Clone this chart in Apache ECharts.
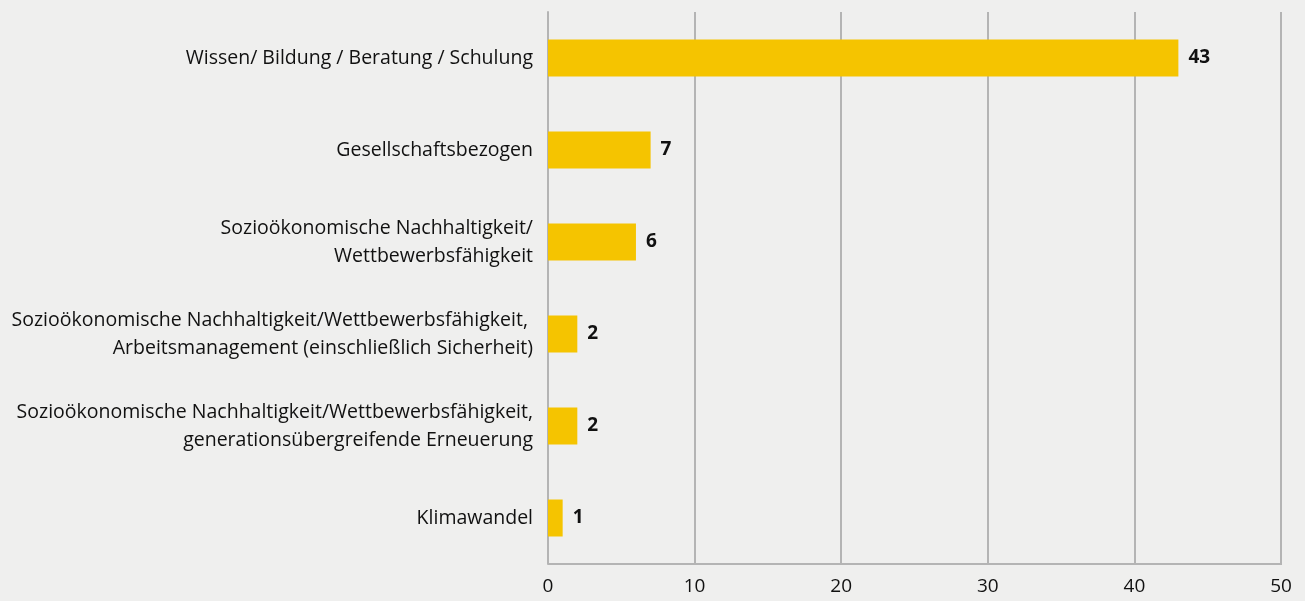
<!DOCTYPE html>
<html><head><meta charset="utf-8">
<script src="https://cdn.jsdelivr.net/npm/echarts@6/dist/echarts.min.js"></script>
<style>html,body{margin:0;padding:0;background:#efefee;}#c{width:1305px;height:601px;}</style>
</head><body><div id="c"></div>
<script>
const categories = [
  "Wissen/ Bildung / Beratung / Schulung",
  "Gesellschaftsbezogen",
  "Sozioökonomische Nachhaltigkeit/\nWettbewerbsfähigkeit",
  "Sozioökonomische Nachhaltigkeit/Wettbewerbsfähigkeit, \nArbeitsmanagement (einschließlich Sicherheit)",
  "Sozioökonomische Nachhaltigkeit/Wettbewerbsfähigkeit,\ngenerationsübergreifende Erneuerung",
  "Klimawandel"
];
const values = [43, 7, 6, 2, 2, 1];
const xTicks = [0, 10, 20, 30, 40, 50];

const chart = echarts.init(document.getElementById('c'));
chart.setOption({
  backgroundColor: '#efefee',
  animation: false,
  grid: {left: 548, right: 24, top: 12, bottom: 37},
  xAxis: {
    type: 'value', min: xTicks[0], max: xTicks[xTicks.length-1], interval: 10,
    axisLine: {show: false},
    axisTick: {show: false},
    splitLine: {show: true, lineStyle: {color: '#b4b4b4', width: 2}},
    axisLabel: {color: '#111', fontSize: 19, fontFamily: 'Open Sans', margin: 13}
  },
  yAxis: {
    type: 'category', data: categories, inverse: true,
    axisLine: {show: true, lineStyle: {color: '#b4b4b4', width: 2}},
    axisTick: {show: false},
    axisLabel: {color: '#111', fontSize: 19.5, fontFamily: 'Open Sans', margin: 15, lineHeight: 28, align: 'right'}
  },
  series: [{
    type: 'bar', data: values, barWidth: 37,
    itemStyle: {color: '#f5c400'},
    label: {show: true, position: 'right', distance: 10, color: '#111', fontWeight: 'bold', fontSize: 19, fontFamily: 'Open Sans'}
  }],
  graphic: [{type: 'line', shape: {x1: 548, y1: 564, x2: 1282, y2: 564}, style: {stroke: '#b4b4b4', lineWidth: 2}, z: 10}]
});
</script></body></html>
